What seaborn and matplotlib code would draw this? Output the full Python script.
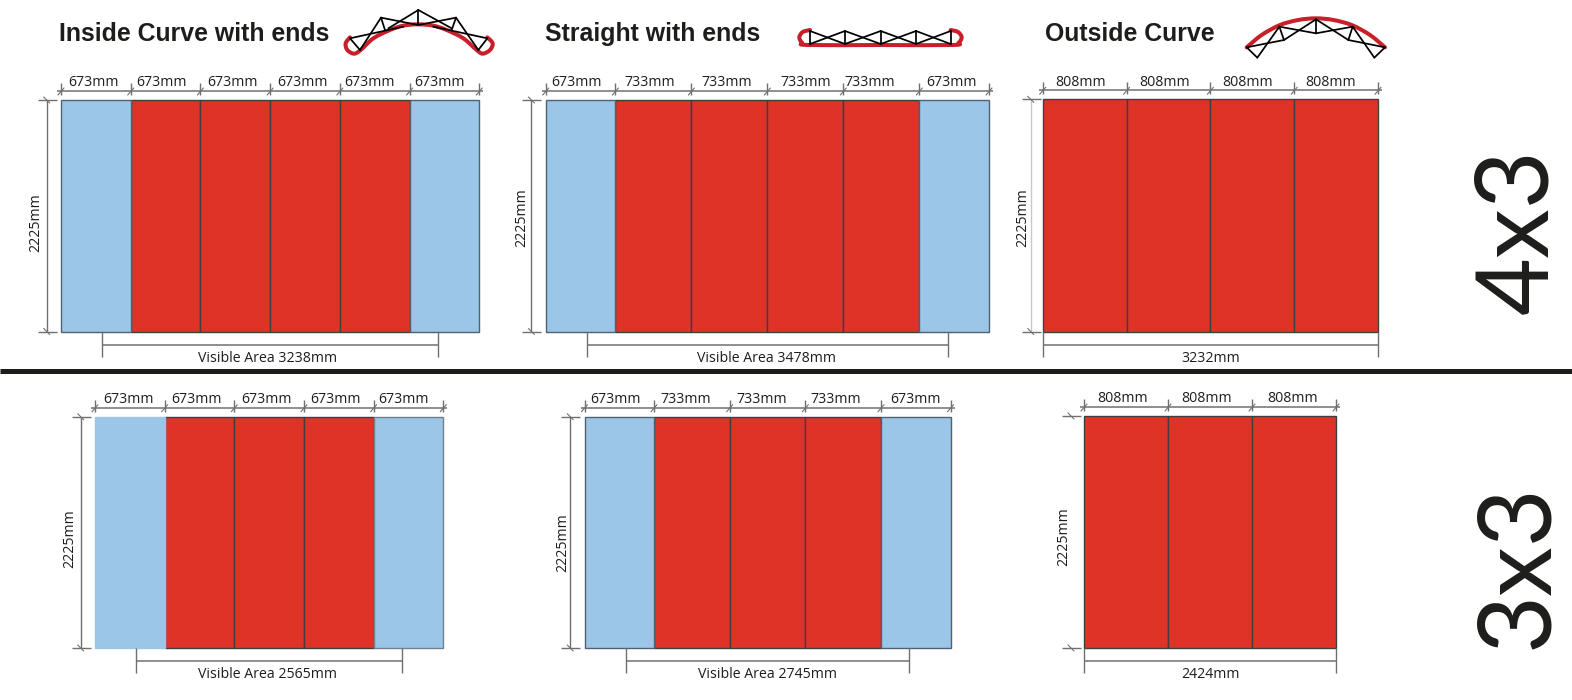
import numpy as np
import pandas as pd
import matplotlib
matplotlib.use("Agg")
import matplotlib.pyplot as plt
from matplotlib.path import Path
from matplotlib.patches import PathPatch
from matplotlib.transforms import Bbox
import seaborn as sns

W, H = 1572, 700
BLUE, RED = "#9CC6E8", "#E03327"
EDGE, DIM, INK = "#3f3f3f", "#707070", "#1d1d1b"
ICON_RED = "#C8202A"
PANEL_HEIGHT_MM = 2225

# Panel widths in mm and their kinds (End = blue, Mid = red)
inside_4x3 = [673, 673, 673, 673, 673, 673]
straight_4x3 = [673, 733, 733, 733, 733, 673]
outside_4x3 = [808, 808, 808, 808]
inside_3x3 = [673, 673, 673, 673, 673]
straight_3x3 = [673, 733, 733, 733, 673]
outside_3x3 = [808, 808, 808]
kinds_ends_6 = ["End", "Mid", "Mid", "Mid", "Mid", "End"]
kinds_ends_5 = ["End", "Mid", "Mid", "Mid", "End"]
kinds_out_4 = ["Mid"] * 4
kinds_out_3 = ["Mid"] * 3
# Text under each wall and its width in mm
bottom_mm = [3238, 3478, 3232, 2565, 2745, 2424]
bottom_txt = ["Visible Area 3238mm", "Visible Area 3478mm", "3232mm",
              "Visible Area 2565mm", "Visible Area 2745mm", "2424mm"]
bottom_shift = [-2.5, -1, 0, -2, 0, 0]
titles = ["Inside Curve with ends", "Straight with ends", "Outside Curve"]
size_labels = ["4x3", "3x3"]

# Layout: left, right, top, bottom px, left dim offset, label offset, label y, vline colour, label shifts
layout = [
    (inside_4x3, kinds_ends_6, 61, 479.3, 100, 331.5, -14.3, -25, 222.5, DIM, [-2, -4.5, -2.5, -3, -5, -5]),
    (straight_4x3, kinds_ends_6, 545.7, 989, 100, 331.5, -14.3, -24, 217.5, DIM, [-3.7, -4, -2.7, 0, -12, -3]),
    (outside_4x3, kinds_out_4, 1042.7, 1378, 99.3, 331.5, -12, -20, 217.5, "#c9c9c9", [-4, -4, -4.7, -5.3]),
    (inside_3x3, kinds_ends_5, 95, 443.3, 416.7, 648, -14.3, -25, 538.5, DIM, [-1.3, -3.3, -3, -3.3, -5]),
    (straight_3x3, kinds_ends_5, 584.5, 950.5, 416.7, 648, -14.3, -22, 542.5, DIM, [-4, -6, -6, -7, 0]),
    (outside_3x3, kinds_out_3, 1084, 1336, 416, 648, -13, -20, 536.5, None, [-3.6, -3, -1]),
]

# Truss icons: 3x zoomed pixel coordinates and origin
inside_origin = (340, 5)
inside_red = [(30, 97), (17, 115), (22, 135), (42, 146), (62, 135), (100, 100), (150, 75), (190, 62),
              (235, 58), (280, 62), (320, 75), (370, 100), (410, 135), (428, 146), (450, 135),
              (458, 115), (442, 97)]
inside_truss = [((30, 100), (60, 135)), ((60, 135), (123, 38)), ((30, 100), (190, 65)),
                ((123, 38), (135, 75)), ((123, 38), (235, 60)), ((235, 15), (145, 70)),
                ((235, 15), (235, 58)), ((235, 15), (335, 70)), ((348, 38), (235, 60)),
                ((348, 38), (335, 75)), ((348, 38), (415, 135)), ((442, 100), (280, 65)),
                ((442, 100), (415, 135))]
straight_origin = (790, 20)
straight_red = [(60, 30), (38, 36), (28, 52), (36, 68), (54, 75), (270, 75), (488, 75), (506, 68),
                (515, 52), (504, 36), (482, 30)]
straight_top = [60, 165, 272, 378, 482]
outside_origin = (1240, 10)
outside_red = [(20, 112), (65, 75), (120, 45), (175, 30), (228, 25), (280, 30), (335, 45), (390, 75),
               (435, 112)]
outside_truss = [((20, 112), (52, 143)), ((52, 143), (118, 50)), ((20, 112), (132, 90)),
                 ((118, 50), (132, 90)), ((132, 90), (228, 28)), ((118, 50), (228, 70)),
                 ((228, 28), (228, 70)), ((228, 28), (325, 90)), ((338, 50), (228, 70)),
                 ((338, 50), (325, 90)), ((338, 50), (403, 143)), ((435, 112), (325, 90)),
                 ((435, 112), (403, 143))]

sns.set_theme(style="white")
plt.rcParams["font.family"] = ["Open Sans", "DejaVu Sans"]
fig = plt.figure(figsize=(W / 100, H / 100), dpi=100, facecolor="white")

overlay = fig.add_axes([0, 0, 1, 1], zorder=5)
overlay.set_xlim(0, W)
overlay.set_ylim(H, 0)
overlay.set_axis_off()


def hline(x0, x1, y, c=DIM, lw=1.0):
    overlay.plot([x0, x1], [y, y], color=c, lw=lw, solid_capstyle="butt")


def vline(x, y0, y1, c=DIM, lw=1.0):
    overlay.plot([x, x], [y0, y1], color=c, lw=lw, solid_capstyle="butt")


for idx, (widths, kinds, l, r, t, b, dim_off, lab_off, lab_y, vcol, shifts) in enumerate(layout):
    ax = fig.add_axes([l / W, 1 - b / H, (r - l) / W, (b - t) / H], zorder=2)
    edges = np.concatenate([[0], np.cumsum(widths)])
    frame = pd.DataFrame({
        "mid": (edges[:-1] + edges[1:]) / 2,
        "height": [PANEL_HEIGHT_MM] * len(widths),
        "kind": kinds,
    })
    sns.histplot(data=frame, x="mid", weights="height", hue="kind", bins=edges.tolist(), ax=ax,
                 palette={"End": BLUE, "Mid": RED}, alpha=1, edgecolor=EDGE, linewidth=1.0,
                 legend=False)
    for p in ax.patches:
        if p.get_height() == 0:
            p.set_visible(False)
    ax.set_xlim(0, edges[-1])
    ax.set_ylim(0, PANEL_HEIGHT_MM)
    ax.set_axis_off()
    for s in ax.patches:
        s.set_clip_on(False)
        if s.get_visible() and (s.get_x() < 1 or s.get_x() > edges[-2] - 1) and idx in (0, 1, 4):
            s.set_edgecolor("#4f6274")
    if idx == 3:
        for s in ax.patches:
            if s.get_visible() and s.get_x() < 1:
                s.set_edgecolor(BLUE)
            elif s.get_visible() and s.get_x() > edges[-2] - 1:
                s.set_edgecolor("#6f8191")

    scale = (r - l) / edges[-1]
    px = l + edges * scale
    # top dimension line
    ty = t - 9
    hline(px[0] - 4, px[-1] + 4, ty, lw=1.1)
    for x in px:
        vline(x, ty - 8, ty + 4)
        overlay.plot([x - 3, x + 3], [ty + 4, ty - 3], color=DIM, lw=0.8)
    for i, w in enumerate(widths):
        overlay.text((px[i] + px[i + 1]) / 2 + shifts[i], ty - 4.5, f"{w}mm", ha="center",
                     va="baseline", fontsize=10.2, color=INK)
    # left dimension line
    lx = l + dim_off
    if vcol:
        vline(lx, t, b, c=vcol)
    for y in (t, b):
        hline(lx - 9, lx + 10, y)
        overlay.plot([lx - 3, lx + 3], [y - 3, y + 3], color=DIM, lw=0.8)
    overlay.text(l + lab_off, lab_y, f"{PANEL_HEIGHT_MM}mm", rotation=90, ha="center", va="center",
                 fontsize=10.2, color=INK)
    # bottom dimension line
    inset = (edges[-1] - bottom_mm[idx]) / 2 * scale
    by = b + 13
    bx0, bx1 = l + inset, r - inset
    hline(bx0, bx1, by, lw=1.1)
    vline(bx0, b, by + 12)
    vline(bx1, b, by + 12)
    txt = overlay.text((bx0 + bx1) / 2 + bottom_shift[idx], by + 17, bottom_txt[idx], ha="center",
                       va="baseline", fontsize=10.2, color=INK)
    if idx < 3:
        txt.set_clip_on(True)
        txt.set_clip_box(Bbox([[0, H - 361.5], [W, H]]))

# divider
overlay.plot([0, W], [370.7, 370.7], color=INK, lw=3.6, solid_capstyle="butt")

# titles
for s, x in zip(titles, [59, 545, 1045]):
    overlay.text(x, 41, s, family=["Liberation Sans"], fontweight="bold", fontsize=17.95, color=INK,
                 ha="left", va="baseline")

# big size labels
for s, y in zip(size_labels, [231, 566]):
    overlay.text(1519, y, s, rotation=90, ha="center", va="center", fontsize=72, color=INK,
                 family=["Lato"])


def zoomed(pts, origin):
    a = np.array(pts, dtype=float) / 3
    return a + np.array(origin, dtype=float)


def draw_segments(segs, origin):
    for seg in segs:
        a = zoomed(seg, origin)
        overlay.plot(a[:, 0], a[:, 1], color="black", lw=1.25)


def draw_smooth(pts, origin):
    a = zoomed(pts, origin)
    verts, codes = [a[0]], [Path.MOVETO]
    for i in range(len(a) - 1):
        p0 = a[max(i - 1, 0)]
        p1, p2 = a[i], a[i + 1]
        p3 = a[min(i + 2, len(a) - 1)]
        verts += [p1 + (p2 - p0) / 6, p2 - (p3 - p1) / 6, p2]
        codes += [Path.CURVE4] * 3
    overlay.add_patch(PathPatch(Path(verts, codes), fill=False, edgecolor=ICON_RED, lw=2.9,
                                capstyle="round", joinstyle="round"))


draw_segments(inside_truss, inside_origin)
draw_smooth(inside_red, inside_origin)

straight_segs = []
for a, b_ in zip(straight_top[:-1], straight_top[1:]):
    straight_segs += [((a, 33), (b_, 72)), ((a, 72), (b_, 33))]
straight_segs += [((a, 33), (a, 72)) for a in straight_top]
draw_segments(straight_segs, straight_origin)
draw_smooth(straight_red, straight_origin)

draw_segments(outside_truss, outside_origin)
draw_smooth(outside_red, outside_origin)

fig.savefig("out.png", dpi=100, facecolor="white")
